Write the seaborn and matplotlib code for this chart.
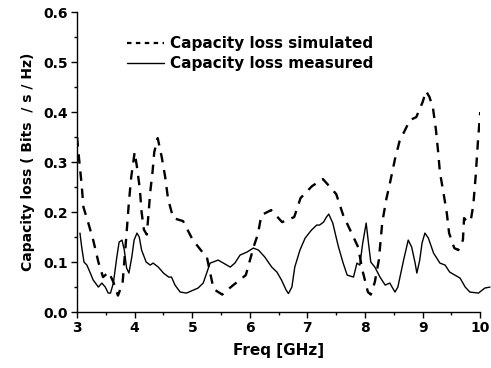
import pandas as pd
import seaborn as sns
import matplotlib.pyplot as plt
from matplotlib.lines import Line2D
from matplotlib.ticker import MultipleLocator

# Simulated capacity loss (dashed curve)
sim_freq = [3.00, 3.04, 3.08, 3.11, 3.19, 3.28, 3.37, 3.45, 3.55, 3.63, 3.71, 3.79,
            3.85, 3.90, 3.94, 4.00, 4.04, 4.09, 4.12, 4.16, 4.21, 4.24, 4.27, 4.31,
            4.34, 4.40, 4.47, 4.53, 4.58, 4.67, 4.84, 5.01, 5.19, 5.25, 5.37, 5.52,
            5.67, 5.93, 6.07, 6.14, 6.20, 6.37, 6.56, 6.77, 6.88, 7.08, 7.27, 7.50,
            7.62, 7.75, 7.88, 7.95, 8.05, 8.10, 8.17, 8.24, 8.30, 8.37, 8.44, 8.52,
            8.60, 8.78, 8.89, 9.00, 9.06, 9.12, 9.18, 9.23, 9.27, 9.30, 9.36, 9.42,
            9.46, 9.55, 9.62, 9.70, 9.72, 9.78, 9.84, 9.88, 9.92, 9.96, 10.00]
sim_loss = [0.350, 0.300, 0.254, 0.210, 0.180, 0.144, 0.100, 0.070, 0.080, 0.060, 0.033, 0.058,
            0.144, 0.220, 0.270, 0.320, 0.290, 0.246, 0.200, 0.165, 0.155, 0.196, 0.240, 0.280,
            0.320, 0.348, 0.310, 0.270, 0.226, 0.188, 0.182, 0.144, 0.118, 0.112, 0.046, 0.035,
            0.050, 0.074, 0.132, 0.156, 0.194, 0.204, 0.180, 0.190, 0.228, 0.252, 0.266, 0.236,
            0.194, 0.162, 0.130, 0.086, 0.040, 0.035, 0.060, 0.104, 0.180, 0.226, 0.262, 0.306,
            0.342, 0.384, 0.390, 0.420, 0.442, 0.430, 0.408, 0.366, 0.320, 0.280, 0.240, 0.198,
            0.158, 0.128, 0.124, 0.144, 0.188, 0.180, 0.186, 0.214, 0.270, 0.340, 0.400]

# Measured capacity loss (solid curve)
meas_freq = [3.05, 3.08, 3.12, 3.17, 3.23, 3.28, 3.37, 3.43, 3.49, 3.54, 3.58, 3.63,
             3.69, 3.73, 3.78, 3.82, 3.86, 3.90, 3.95, 3.99, 4.04, 4.08, 4.12, 4.20,
             4.27, 4.32, 4.41, 4.50, 4.59, 4.64, 4.70, 4.79, 4.90, 5.02, 5.10, 5.19,
             5.25, 5.31, 5.36, 5.45, 5.54, 5.66, 5.74, 5.83, 5.95, 6.06, 6.15, 6.26,
             6.38, 6.47, 6.55, 6.63, 6.67, 6.73, 6.78, 6.87, 6.96, 7.07, 7.16, 7.21,
             7.28, 7.33, 7.37, 7.44, 7.51, 7.54, 7.62, 7.69, 7.80, 7.86, 7.91, 7.96,
             8.02, 8.06, 8.10, 8.17, 8.26, 8.35, 8.43, 8.52, 8.57, 8.67, 8.75, 8.81,
             8.87, 8.90, 8.95, 8.99, 9.04, 9.10, 9.19, 9.30, 9.39, 9.47, 9.56, 9.65,
             9.74, 9.82, 9.97, 10.08, 10.17]
meas_loss = [0.158, 0.130, 0.100, 0.094, 0.078, 0.064, 0.050, 0.058, 0.050, 0.038, 0.038, 0.058,
             0.110, 0.140, 0.144, 0.124, 0.088, 0.078, 0.110, 0.144, 0.158, 0.150, 0.124, 0.100,
             0.094, 0.098, 0.090, 0.078, 0.070, 0.070, 0.054, 0.040, 0.038, 0.044, 0.048, 0.058,
             0.078, 0.098, 0.100, 0.104, 0.098, 0.090, 0.098, 0.114, 0.120, 0.128, 0.124, 0.110,
             0.090, 0.080, 0.064, 0.044, 0.037, 0.050, 0.090, 0.124, 0.148, 0.164, 0.174, 0.174,
             0.180, 0.190, 0.196, 0.178, 0.144, 0.130, 0.098, 0.074, 0.070, 0.098, 0.094, 0.138,
             0.178, 0.138, 0.100, 0.090, 0.070, 0.054, 0.058, 0.040, 0.050, 0.104, 0.144, 0.130,
             0.098, 0.078, 0.104, 0.138, 0.158, 0.148, 0.118, 0.098, 0.094, 0.080, 0.074, 0.068,
             0.050, 0.040, 0.038, 0.048, 0.050]

sim = pd.DataFrame({'Freq': sim_freq, 'Loss': sim_loss})
meas = pd.DataFrame({'Freq': meas_freq, 'Loss': meas_loss})

sns.set_style('ticks')
plt.rcParams['font.family'] = ['DejaVu Sans']
plt.rcParams['font.weight'] = 'bold'
plt.rcParams['text.color'] = 'black'
plt.rcParams['axes.labelcolor'] = 'black'
plt.rcParams['xtick.color'] = 'black'
plt.rcParams['ytick.color'] = 'black'

fig, ax = plt.subplots(figsize=(4.91, 3.68), dpi=100)
fig.subplots_adjust(left=0.157, right=0.978, bottom=0.152, top=0.967)

sns.lineplot(data=sim, x='Freq', y='Loss', ax=ax, color='black',
             linewidth=1.7, linestyle=(0, (4, 3.3)))
sns.lineplot(data=meas, x='Freq', y='Loss', ax=ax, color='black',
             linewidth=1.0, clip_on=False)

ax.set_xlim(3, 10)
ax.set_ylim(0, 0.6)
ax.xaxis.set_major_locator(MultipleLocator(1))
ax.xaxis.set_minor_locator(MultipleLocator(0.5))
ax.yaxis.set_major_locator(MultipleLocator(0.1))
ax.yaxis.set_minor_locator(MultipleLocator(0.05))
ax.tick_params(which='major', direction='out', length=4.5, width=1, labelsize=10, pad=2)
ax.tick_params(which='minor', direction='out', length=2.5, width=1)
ax.yaxis.set_major_formatter(plt.FormatStrFormatter('%.1f'))
for lab in ax.get_xticklabels() + ax.get_yticklabels():
    lab.set_fontweight('bold')

sns.despine(ax=ax)
for side in ['left', 'bottom']:
    ax.spines[side].set_color('black')
    ax.spines[side].set_linewidth(1)

ax.set_xlabel('Freq [GHz]', fontsize=11, fontweight='bold', labelpad=6)
ax.set_ylabel('Capacity loss ( Bits  / s / Hz)', fontsize=10, fontweight='bold', labelpad=6)

handles = [Line2D([], [], color='black', linewidth=1.6, linestyle=(0, (2, 2))),
           Line2D([], [], color='black', linewidth=1.0)]
ax.legend(handles, ['Capacity loss simulated', 'Capacity loss measured'],
          loc='upper left', bbox_to_anchor=(0.09, 0.965), frameon=False,
          prop={'size': 11, 'weight': 'bold'}, handlelength=2.4,
          handletextpad=0.4, labelspacing=0.3)

plt.savefig('out.png', dpi=100)
